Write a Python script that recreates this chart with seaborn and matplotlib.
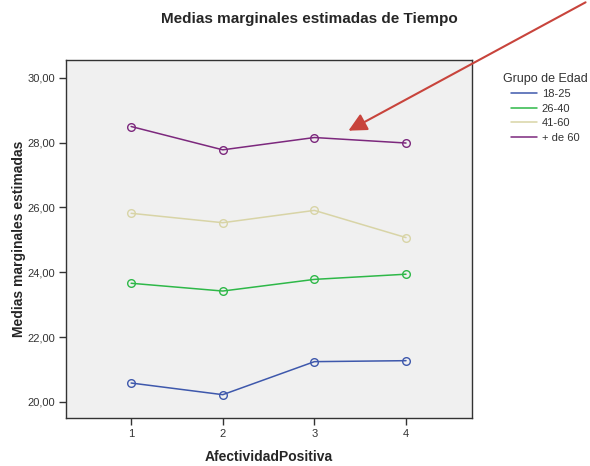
import pandas as pd
import matplotlib.pyplot as plt
import seaborn as sns
from matplotlib.lines import Line2D
from matplotlib.ticker import FuncFormatter

# valores
afectividad = [1, 2, 3, 4]
grupos = ['18-25', '26-40', '41-60', '+ de 60']
m_18_25 = [20.58, 20.22, 21.24, 21.27]
m_26_40 = [23.66, 23.42, 23.78, 23.94]
m_41_60 = [25.82, 25.53, 25.91, 25.07]
m_60 = [28.50, 27.78, 28.16, 27.99]
colores = ['#3e58ac', '#2eb848', '#d8d4a6', '#7c287d']

rows = []
for g, vals in zip(grupos, [m_18_25, m_26_40, m_41_60, m_60]):
    for x, v in zip(afectividad, vals):
        rows.append({'AfectividadPositiva': x, 'Media': v, 'Grupo de Edad': g})
df = pd.DataFrame(rows)

sns.set_style("white")
plt.rcParams['font.family'] = ['Liberation Sans', 'DejaVu Sans']

fig = plt.figure(figsize=(5.9, 4.66), dpi=100)
ax = fig.add_axes([0.112, 0.103, 0.688, 0.768])
ax.set_facecolor('#f0f0f0')

sns.lineplot(data=df, x='AfectividadPositiva', y='Media', hue='Grupo de Edad',
             hue_order=grupos, palette=colores, marker='o', markersize=5.5,
             mfc='none', lw=1.1, legend=False, ax=ax)
for line in ax.lines:
    line.set_markeredgecolor(line.get_color())
    line.set_markeredgewidth(1.0)

ax.set_xlim(0.29, 4.72)
ax.set_ylim(19.5, 30.55)
ax.set_xticks(afectividad)
ax.set_yticks([20, 22, 24, 26, 28, 30])
ax.yaxis.set_major_formatter(FuncFormatter(lambda v, p: f'{v:.2f}'.replace('.', ',')))
ax.tick_params(axis='both', direction='out', length=5, width=1, color='#333333',
               labelsize=8, labelcolor='#333333', bottom=True, left=True, pad=3)
for s in ax.spines.values():
    s.set_color('#333333')
    s.set_linewidth(1)

ax.set_xlabel('AfectividadPositiva', fontsize=10, fontweight='bold', labelpad=8)
ax.set_ylabel('Medias marginales estimadas', fontsize=10, fontweight='bold', labelpad=1)
fig.text(0.525, 0.96, 'Medias marginales estimadas de Tiempo', ha='center', va='center',
         fontsize=11, fontweight='bold')

handles = [Line2D([], [], color=c, lw=1.1) for c in colores]
leg = fig.legend(handles, grupos, title='Grupo de Edad', loc='upper left',
                 bbox_to_anchor=(0.835, 0.865), frameon=False, fontsize=8,
                 title_fontsize=9, handlelength=2.4, handletextpad=0.4,
                 labelspacing=0.4)
leg.get_title().set_color('#333333')
for t in leg.get_texts():
    t.set_color('#333333')

# flecha roja
ax.annotate('', xy=(346 / 590, 1 - 132 / 466), xycoords='figure fraction',
            xytext=(588 / 590, 1 - 1 / 466), textcoords='figure fraction',
            arrowprops=dict(arrowstyle='-|>,head_length=1.1,head_width=0.55',
                            color='#c8443c', lw=1.5), annotation_clip=False)

plt.savefig('out.png', dpi=100)
plt.close()
